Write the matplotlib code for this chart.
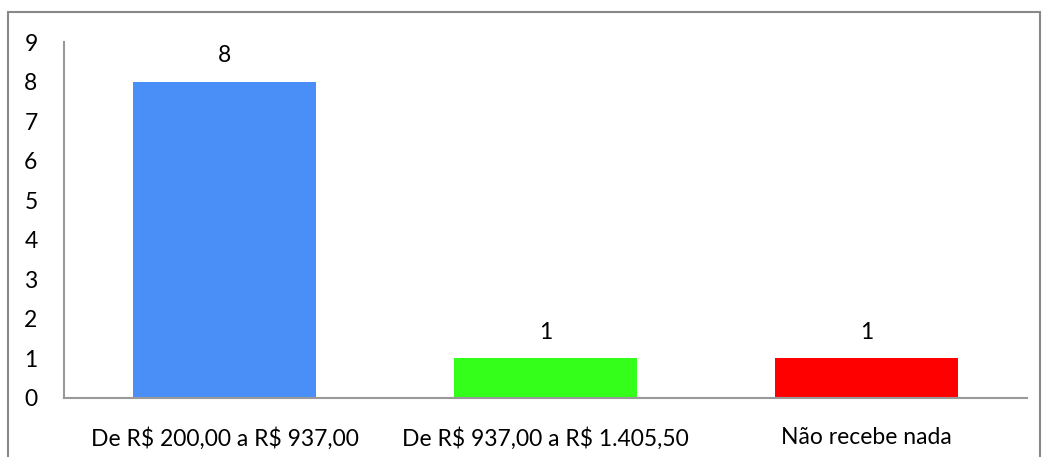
import matplotlib.pyplot as plt
from matplotlib.patches import Rectangle

categories = ["De R$ 200,00 a R$ 937,00", "De R$ 937,00 a R$ 1.405,50", "Não recebe nada"]
values = [8, 1, 1]
colors = ["#4A8EF7", "#33FF1A", "#FF0000"]

plt.rcParams['font.family'] = ['Lato', 'DejaVu Sans']

fig = plt.figure(figsize=(10.44, 4.57), dpi=100)
W, H = 1044, 457
ax = fig.add_axes([64 / W, 1 - 398 / H, (1027 - 64) / W, (398 - 42) / H])

x = range(len(categories))
bars = ax.bar(x, values, width=0.573, color=colors)
for b, v in zip(bars, values):
    ax.annotate(str(v), (b.get_x() + b.get_width() / 2, v), xytext=(0, 11),
                textcoords="offset points", ha="center", va="bottom", fontsize=16.5)

ax.set_xlim(-0.5, 2.5)
ax.set_ylim(0, 9)
ax.set_yticks(range(10))
ax.set_xticks(list(x))
ax.set_xticklabels(categories, parse_math=False)
ax.tick_params(axis="both", length=0, labelsize=16.5)
ax.tick_params(axis="y", pad=19)
ax.tick_params(axis="x", pad=21)
for s in ["top", "right"]:
    ax.spines[s].set_visible(False)
for s in ["left", "bottom"]:
    ax.spines[s].set_color("#999999")
    ax.spines[s].set_linewidth(1.5)

# outer chart frame
fig.patches.append(Rectangle((8 / W, -0.05), (1040 - 8) / W, 1.05 - 12 / H,
                             transform=fig.transFigure, fill=False,
                             edgecolor="#888888", linewidth=1.5))

fig.savefig("out.png", dpi=100)
